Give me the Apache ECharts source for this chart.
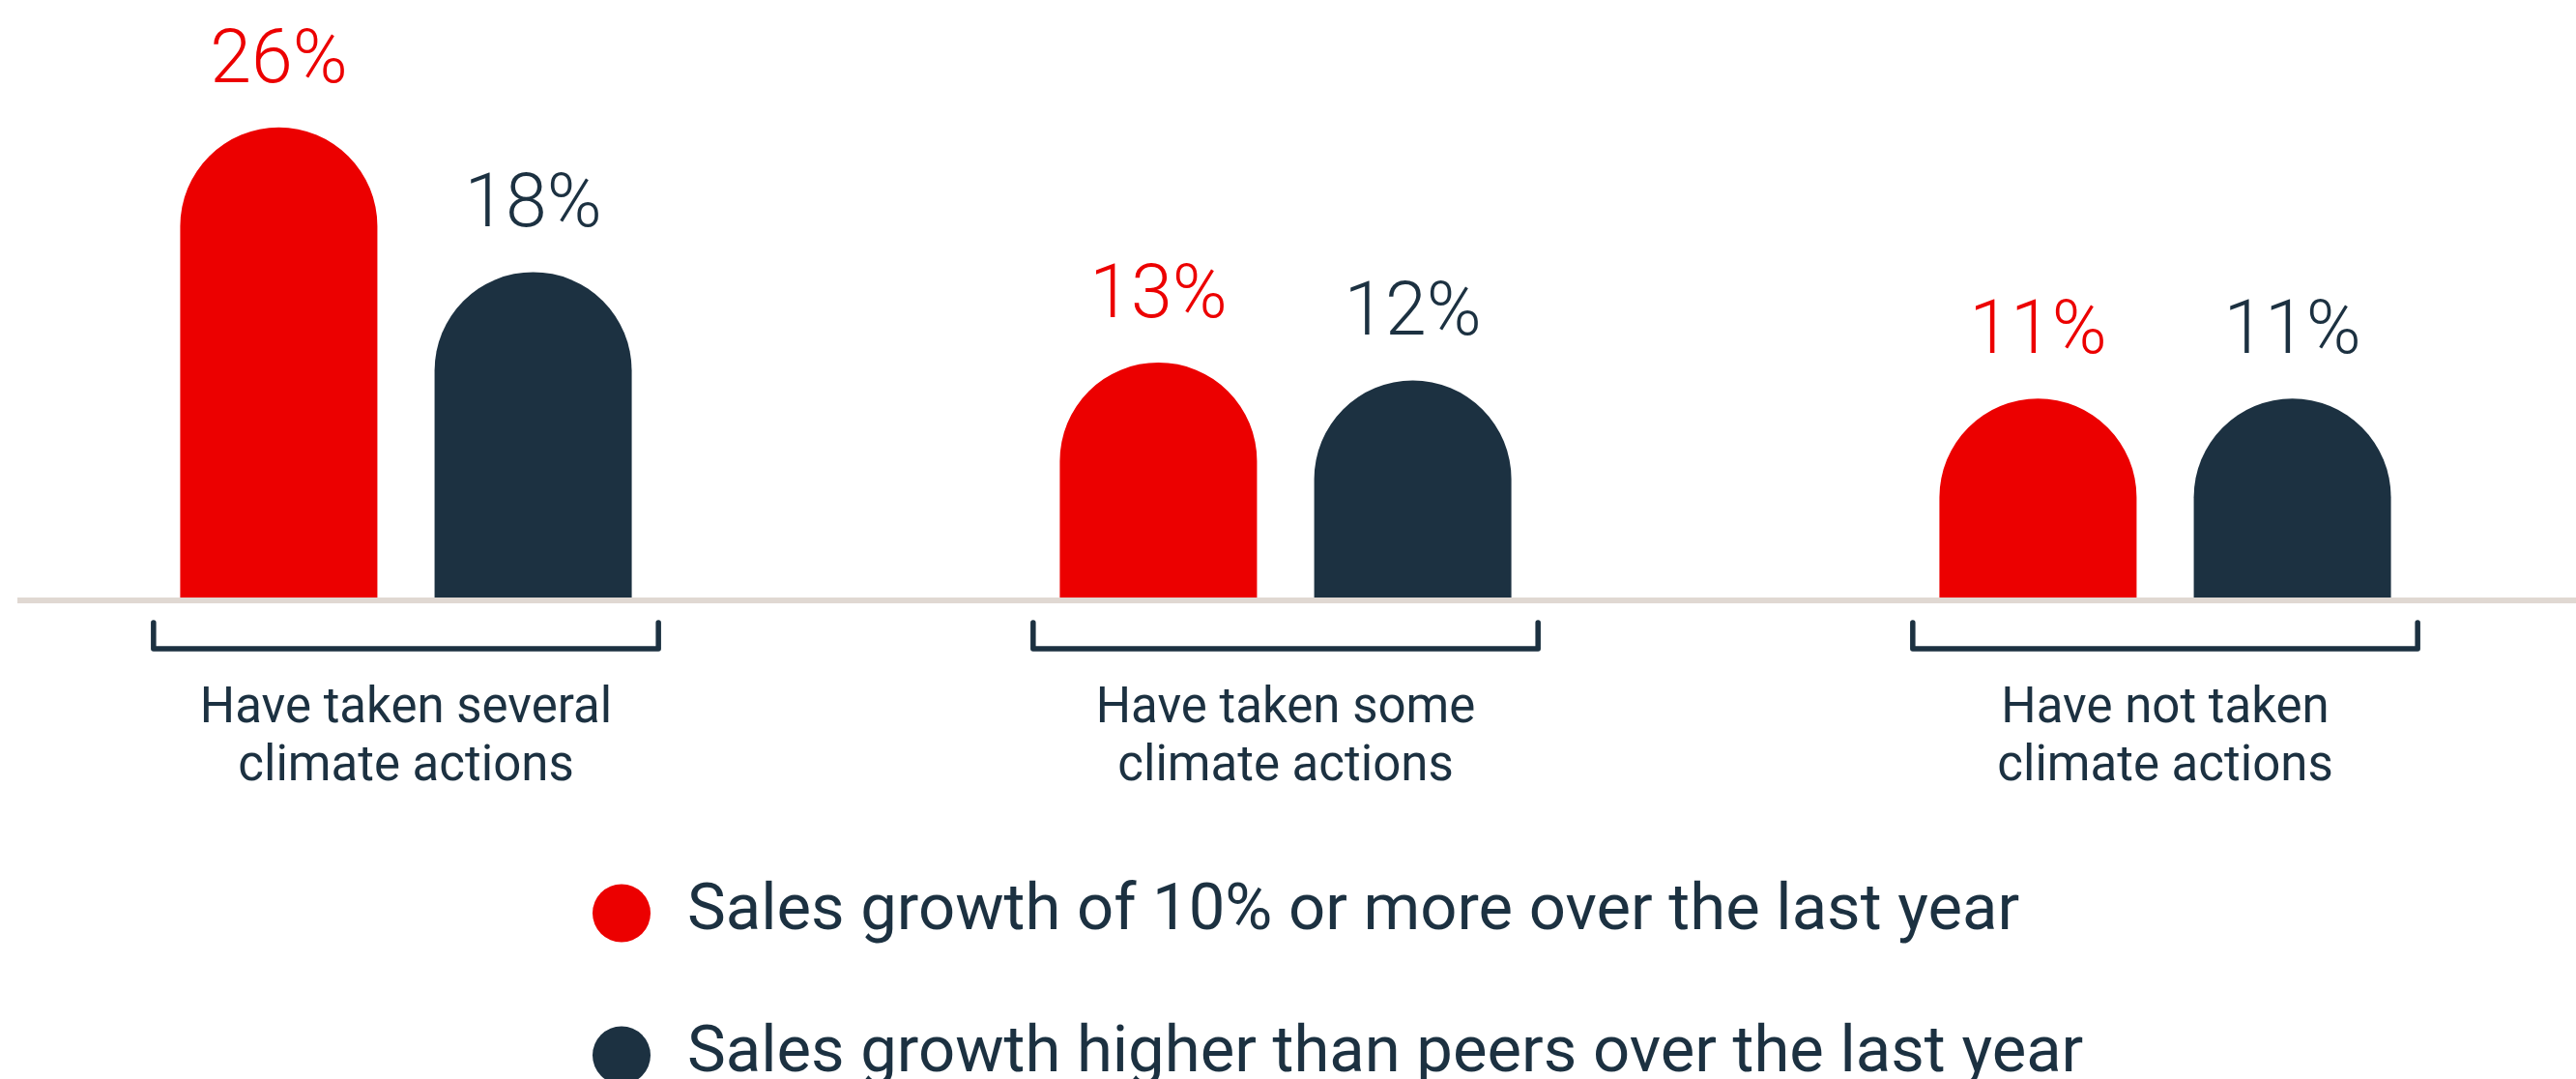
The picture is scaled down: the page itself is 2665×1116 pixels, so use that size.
<!DOCTYPE html>
<html>
<head>
<meta charset="utf-8">
<script src="https://cdn.jsdelivr.net/npm/echarts@6/dist/echarts.min.js"></script>
<style>
  html, body { margin: 0; padding: 0; background: #fff; }
  #chart { width: 2665px; height: 1116px; }
</style>
</head>
<body>
<div id="chart"></div>
<script>
const categories = [
  "Have taken several\nclimate actions",
  "Have taken some\nclimate actions",
  "Have not taken\nclimate actions",
];
const seriesNames = [
  "Sales growth of 10% or more over the last year",
  "Sales growth higher than peers over the last year",
];
const salesGrowth10 = [26, 13, 11];
const salesGrowthPeers = [18, 12, 11];

const RED = "#ec0000";
const NAVY = "#1c3141";
const FONT = "Roboto, 'Noto Sans', sans-serif";

const chart = echarts.init(document.getElementById("chart"));

// bar with round top (semi circle)
function barSeries(name, data, color) {
  return {
    name: name,
    type: "bar",
    data: data,
    barWidth: 204,
    barGap: "29%",
    itemStyle: { color: color, borderRadius: [102, 102, 0, 0] },
    label: {
      show: true,
      position: "top",
      distance: 28,
      formatter: "{c}%",
      color: color,
      fontFamily: FONT,
      fontWeight: 300,
      fontSize: 77,
      lineHeight: 77,
    },
    z: 3,
  };
}

function legendFor(name, top) {
  return {
    orient: "vertical",
    left: 608,
    top: top,
    itemWidth: 60,
    itemHeight: 60,
    icon: "circle",
    data: [name],
    selectedMode: false,
    textStyle: {
      color: NAVY,
      fontFamily: FONT,
      fontSize: 67,
      lineHeight: 60,
      padding: [0, 0, 0, 33],
    },
  };
}

const option = {
  animation: false,
  grid: {
    left: -35,
    right: -30,
    top: 57,
    bottom: 498,
    containLabel: false,
    outerBoundsMode: "none",
  },
  legend: [legendFor(seriesNames[0], 906), legendFor(seriesNames[1], 1053)],
  xAxis: {
    type: "category",
    data: categories,
    axisLine: { show: false },
    axisTick: { show: false },
    axisLabel: {
      interval: 0,
      margin: 86,
      color: NAVY,
      fontFamily: FONT,
      fontSize: 51,
      lineHeight: 60,
    },
  },
  yAxis: {
    type: "value",
    min: 0,
    max: 30,
    show: false,
    splitLine: { show: false },
  },
  graphic: [
    {
      type: "rect",
      shape: { x: 18, y: 618, width: 2647, height: 6 },
      style: { fill: "#e0d8d2" },
      z: 0,
    },
  ],
  series: [
    barSeries(seriesNames[0], salesGrowth10, RED),
    barSeries(seriesNames[1], salesGrowthPeers, NAVY),
    {
      // group brackets under each category
      type: "custom",
      data: categories.map((c, i) => [i, 0]),
      silent: true,
      clip: false,
      renderItem: function (params, api) {
        const p = api.coord([api.value(0), 0]);
        const half = api.size([1, 0])[0] * 0.287;
        return {
          type: "polyline",
          shape: {
            points: [
              [p[0] - half, p[1] + 26],
              [p[0] - half, p[1] + 53],
              [p[0] + half, p[1] + 53],
              [p[0] + half, p[1] + 26],
            ],
          },
          style: {
            fill: null,
            stroke: NAVY,
            lineWidth: 5.5,
            lineCap: "round",
            lineJoin: "round",
          },
        };
      },
    },
  ],
};

chart.setOption(option);
</script>
</body>
</html>
